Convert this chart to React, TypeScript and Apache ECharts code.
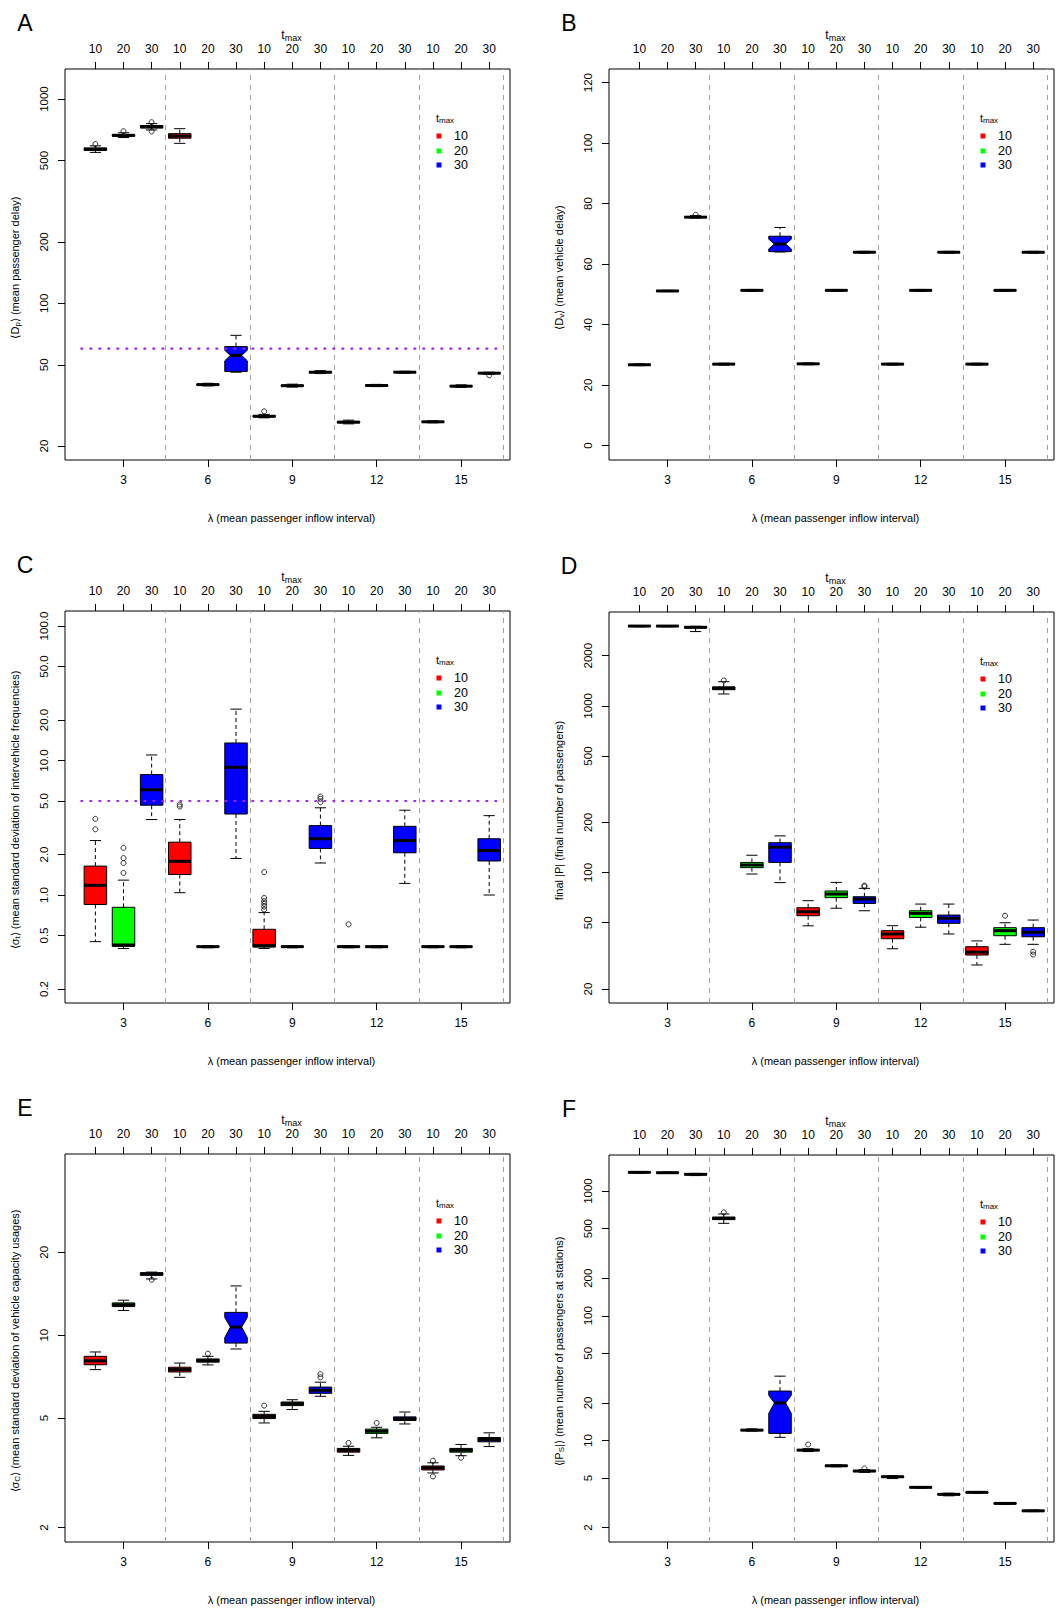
import React, { useEffect, useRef } from "react";
import * as echarts from "echarts";

// ---------- shared categories ----------
const boxPositions = [2, 3, 4, 5, 6, 7, 8, 9, 10, 11, 12, 13, 14, 15, 16];
const tmaxValues = [10, 20, 30];
const lambdaValues = [3, 6, 9, 12, 15];
const lambdaPositions = [3, 6, 9, 12, 15];
const groupSeparators = [4.5, 7.5, 10.5, 13.5, 16.5];

// ---------- panel A: mean passenger delay (log) [min, q1, median, q3, max] ----------
const statsA = [
  [548, 560, 568, 576, 590], [648, 657, 664, 671, 684], [706, 722, 731, 742, 758],
  [607, 643, 659, 677, 716], [39.4, 39.8, 40.0, 40.2, 40.6], [46.0, 46.4, 55.6, 61.4, 69.7],
  [27.5, 27.8, 28.0, 28.2, 28.6], [38.9, 39.3, 39.5, 39.8, 40.2], [45.3, 45.7, 46.0, 46.3, 46.8],
  [25.7, 26.0, 26.2, 26.4, 26.8], [39.1, 39.4, 39.6, 39.8, 40.1], [45.5, 45.8, 46.0, 46.2, 46.5],
  [26.0, 26.2, 26.3, 26.4, 26.6], [38.8, 39.1, 39.3, 39.5, 39.9], [44.9, 45.3, 45.5, 45.7, 46.0],
];
const notchesA = [[7, 52.3, 58.9]];
const outliersA = [[2, 602], [3, 696], [4, 770], [4, 694], [8, 29.6], [16, 44.4]];
const thresholdA = 60;
const yTicksA = [20, 50, 100, 200, 500, 1000];
const yTickLabelsA = ["20", "50", "100", "200", "500", "1000"];

// ---------- panel B: mean vehicle delay (linear) ----------
const statsB = [
  [26.4, 26.6, 26.7, 26.8, 27.0], [50.9, 51.0, 51.1, 51.2, 51.3], [75.2, 75.4, 75.5, 75.6, 76.0],
  [26.6, 26.8, 26.9, 27.0, 27.2], [51.0, 51.2, 51.3, 51.4, 51.6], [64.0, 64.1, 66.6, 69.2, 72.1],
  [26.7, 26.9, 27.0, 27.1, 27.3], [51.0, 51.2, 51.3, 51.4, 51.6], [63.6, 63.8, 63.9, 64.0, 64.2],
  [26.6, 26.8, 26.9, 27.0, 27.2], [51.0, 51.2, 51.3, 51.4, 51.6], [63.6, 63.8, 63.9, 64.0, 64.2],
  [26.6, 26.8, 26.9, 27.0, 27.2], [51.0, 51.2, 51.3, 51.4, 51.6], [63.6, 63.8, 63.9, 64.0, 64.2],
];
const notchesB = [[7, 65.0, 68.2]];
const outliersB = [[4, 76.3]];
const yTicksB = [0, 20, 40, 60, 80, 100, 120];
const yTickLabelsB = ["0", "20", "40", "60", "80", "100", "120"];

// ---------- panel C: std of intervehicle frequencies (log) ----------
const statsC = [
  [0.45, 0.85, 1.18, 1.64, 2.54], [0.40, 0.415, 0.425, 0.81, 1.29], [3.64, 4.65, 6.06, 7.86, 11.0],
  [1.04, 1.42, 1.78, 2.47, 3.64], [0.405, 0.41, 0.413, 0.416, 0.42], [1.87, 4.0, 8.9, 13.5, 24.1],
  [0.40, 0.41, 0.42, 0.556, 0.74], [0.405, 0.41, 0.413, 0.416, 0.42], [1.73, 2.22, 2.62, 3.28, 4.45],
  [0.405, 0.41, 0.413, 0.416, 0.42], [0.405, 0.41, 0.413, 0.416, 0.42], [1.22, 2.06, 2.54, 3.24, 4.27],
  [0.405, 0.41, 0.413, 0.416, 0.42], [0.405, 0.41, 0.413, 0.416, 0.42], [1.0, 1.79, 2.14, 2.62, 3.89],
];
const notchesC: number[][] = [];
const outliersC = [
  [2, 3.08], [2, 3.68], [3, 1.46], [3, 1.73], [3, 1.88], [3, 2.24], [5, 4.55], [5, 4.7],
  [8, 0.78], [8, 0.82], [8, 0.86], [8, 0.9], [8, 0.95], [8, 1.48], [10, 4.9], [10, 5.2], [10, 5.4], [11, 0.605],
];
const thresholdC = 5;
const yTicksC = [0.2, 0.5, 1, 2, 5, 10, 20, 50, 100];
const yTickLabelsC = ["0.2", "0.5", "1.0", "2.0", "5.0", "10.0", "20.0", "50.0", "100.0"];

// ---------- panel D: final number of passengers (log) ----------
const statsD = [
  [2980, 2995, 3010, 3020, 3030], [2980, 2995, 3010, 3020, 3030], [2790, 2930, 2960, 2980, 3000],
  [1178, 1250, 1274, 1300, 1396], [98, 107, 111, 115, 127], [87, 115, 142, 151, 166],
  [47.9, 55.1, 58.2, 61.5, 67.8], [61.1, 70.7, 74.3, 77.5, 87.3], [59, 65.3, 69.3, 71.6, 80.4],
  [34.9, 40.1, 42.8, 44.8, 48], [47, 53.8, 56.9, 59, 64.7], [42.8, 49.6, 53.2, 55.6, 64.7],
  [27.9, 32, 33.3, 35.9, 38.9], [37.1, 41.8, 44.8, 46.7, 50], [37.1, 41.2, 43.8, 46.7, 51.9],
];
const notchesD: number[][] = [];
const outliersD = [[5, 1420], [10, 82.5], [10, 83.5], [15, 55.1], [16, 33.5], [16, 32.2]];
const yTicksD = [20, 50, 100, 200, 500, 1000, 2000];
const yTickLabelsD = ["20", "50", "100", "200", "500", "1000", "2000"];

// ---------- panel E: std of vehicle capacity usages (log) ----------
const statsE = [
  [7.5, 7.81, 8.07, 8.38, 8.69], [12.3, 12.7, 12.9, 13.1, 13.4], [16.0, 16.5, 16.7, 16.85, 16.95],
  [7.03, 7.35, 7.5, 7.65, 7.92], [7.8, 7.98, 8.09, 8.2, 8.38], [8.91, 9.36, 10.7, 12.1, 15.1],
  [4.8, 4.98, 5.07, 5.16, 5.29], [5.37, 5.55, 5.64, 5.72, 5.83], [6.0, 6.15, 6.31, 6.48, 6.75],
  [3.66, 3.76, 3.82, 3.88, 3.95], [4.24, 4.4, 4.48, 4.56, 4.63], [4.76, 4.9, 4.97, 5.05, 5.26],
  [3.16, 3.24, 3.30, 3.35, 3.44], [3.65, 3.76, 3.82, 3.88, 4.01], [3.94, 4.1, 4.18, 4.25, 4.42],
];
const notchesE = [[7, 9.8, 11.6]];
const outliersE = [
  [4, 15.9], [6, 8.57], [8, 5.55], [10, 7.03], [10, 7.22], [11, 4.06], [12, 4.8], [14, 3.5], [14, 3.07], [15, 3.59],
];
const yTicksE = [2, 5, 10, 20];
const yTickLabelsE = ["2", "5", "10", "20"];

// ---------- panel F: mean number of passengers at stations (log) ----------
const statsF = [
  [1390, 1405, 1412, 1420, 1430], [1385, 1397, 1403, 1410, 1420], [1330, 1350, 1361, 1372, 1385],
  [551, 590, 604, 618, 655], [11.9, 12.0, 12.1, 12.2, 12.4], [10.6, 11.4, 20.0, 24.9, 32.8],
  [8.15, 8.3, 8.37, 8.45, 8.6], [6.15, 6.22, 6.27, 6.32, 6.38], [5.55, 5.63, 5.69, 5.75, 5.85],
  [4.95, 5.07, 5.12, 5.17, 5.22], [4.15, 4.19, 4.21, 4.23, 4.26], [3.6, 3.66, 3.70, 3.74, 3.78],
  [3.78, 3.82, 3.84, 3.86, 3.9], [3.08, 3.11, 3.13, 3.15, 3.18], [2.69, 2.71, 2.73, 2.75, 2.77],
];
const notchesF = [[7, 16.5, 23]];
const outliersF = [[5, 675], [8, 9.3], [10, 5.97]];
const yTicksF = [2, 5, 10, 20, 50, 100, 200, 500, 1000];
const yTickLabelsF = ["2", "5", "10", "20", "50", "100", "200", "500", "1000"];

// ---------- layout / style ----------
const FONT = '"Liberation Sans", Arial, Helvetica, sans-serif';
const BOX_COLORS = ["#ff0000", "#00ff00", "#0000ff"];
const X_MIN = 0.92;
const X_MAX = 16.74;

const layouts = [
  { left: 65, top: 69, width: 445, height: 391 },
  { left: 609, top: 69, width: 445, height: 391 },
  { left: 65, top: 611, width: 445, height: 392 },
  { left: 609, top: 612, width: 445, height: 391 },
  { left: 65, top: 1154, width: 445, height: 388 },
  { left: 609, top: 1155, width: 445, height: 387 },
];

const panels = [
  { letter: "A", stats: statsA, notches: notchesA, outliers: outliersA, log: true, yMin: 17.1, yMax: 1403, ticks: yTicksA, tickLabels: yTickLabelsA, threshold: thresholdA,
    yName: "{n|⟨D}{s|p}{n|⟩ (mean passenger delay)}" },
  { letter: "B", stats: statsB, notches: notchesB, outliers: outliersB, log: false, yMin: -4.8, yMax: 124.5, ticks: yTicksB, tickLabels: yTickLabelsB, threshold: null,
    yName: "{n|⟨D}{s|v}{n|⟩ (mean vehicle delay)}" },
  { letter: "C", stats: statsC, notches: notchesC, outliers: outliersC, log: true, yMin: 0.1574, yMax: 129.3, ticks: yTicksC, tickLabels: yTickLabelsC, threshold: thresholdC,
    yName: "{n|⟨σ}{s|t}{n|⟩ (mean standard deviation of intervehicle frequencies)}" },
  { letter: "D", stats: statsD, notches: notchesD, outliers: outliersD, log: true, yMin: 16.5, yMax: 3656, ticks: yTicksD, tickLabels: yTickLabelsD, threshold: null,
    yName: "{n|final |P| (final number of passengers)}" },
  { letter: "E", stats: statsE, notches: notchesE, outliers: outliersE, log: true, yMin: 1.774, yMax: 45.5, ticks: yTicksE, tickLabels: yTickLabelsE, threshold: null,
    yName: "{n|⟨σ}{s|C}{n|⟩ (mean standard deviation of vehicle capacity usages)}" },
  { letter: "F", stats: statsF, notches: notchesF, outliers: outliersF, log: true, yMin: 1.535, yMax: 1945, ticks: yTicksF, tickLabels: yTickLabelsF, threshold: null,
    yName: "{n|⟨|P}{s|S}{n||⟩ (mean number of passengers at stations)}" },
];

function renderBox(params: any, api: any) {
  const x = api.value(0);
  const ys = [1, 2, 3, 4, 5].map((d) => api.coord([x, api.value(d)])[1]);
  const [yLo, yQ1, yMed, yQ3, yHi] = ys;
  const cx = api.coord([x, api.value(3)])[0];
  const hw = api.size([0.8, 0])[0] / 2;
  const sw = hw / 2;
  const color = BOX_COLORS[api.value(6)];
  const hasNotch = api.value(7) === 1;
  const dashed = { stroke: "#000", lineWidth: 1, lineDash: [4, 3], fill: null };
  const solid = { stroke: "#000", lineWidth: 1, fill: null };
  const children: any[] = [
    { type: "line", shape: { x1: cx, y1: yQ3, x2: cx, y2: yHi }, style: dashed },
    { type: "line", shape: { x1: cx, y1: yQ1, x2: cx, y2: yLo }, style: dashed },
    { type: "line", shape: { x1: cx - sw, y1: yHi, x2: cx + sw, y2: yHi }, style: solid },
    { type: "line", shape: { x1: cx - sw, y1: yLo, x2: cx + sw, y2: yLo }, style: solid },
  ];
  if (hasNotch) {
    const yNlo = api.coord([x, api.value(8)])[1];
    const yNhi = api.coord([x, api.value(9)])[1];
    const pts = [
      [cx - hw, yQ1], [cx + hw, yQ1], [cx + hw, yNlo], [cx + hw / 2, yMed], [cx + hw, yNhi],
      [cx + hw, yQ3], [cx - hw, yQ3], [cx - hw, yNhi], [cx - hw / 2, yMed], [cx - hw, yNlo],
    ];
    children.push({ type: "polygon", shape: { points: pts }, style: { fill: color, stroke: "#000", lineWidth: 1 } });
  } else {
    const top = Math.min(yQ1, yQ3);
    children.push({
      type: "rect",
      shape: { x: cx - hw, y: top, width: hw * 2, height: Math.abs(yQ1 - yQ3) },
      style: { fill: color, stroke: "#000", lineWidth: 1 },
    });
  }
  const mw = hasNotch ? hw / 2 : hw;
  children.push({
    type: "line",
    shape: { x1: cx - mw, y1: yMed, x2: cx + mw, y2: yMed },
    style: { stroke: "#000", lineWidth: 3, fill: null },
  });
  return { type: "group", children };
}

function buildOption() {
  const grids: any[] = [];
  const xAxes: any[] = [];
  const yAxes: any[] = [];
  const series: any[] = [];
  const graphics: any[] = [];

  panels.forEach((p, i) => {
    const l = layouts[i];
    const f = (v: number) => (p.log ? Math.log10(v) : v);
    grids.push({ left: l.left, top: l.top, width: l.width, height: l.height, show: true, borderColor: "#000", borderWidth: 1, backgroundColor: "transparent" });

    xAxes.push({
      type: "value", gridIndex: i, position: "bottom", min: X_MIN, max: X_MAX,
      axisLine: { show: false, onZero: false }, splitLine: { show: false },
      axisTick: { show: true, length: 7, customValues: lambdaPositions, lineStyle: { color: "#000" } },
      axisLabel: {
        customValues: lambdaPositions, margin: 14, fontSize: 12, color: "#000", fontFamily: FONT,
        formatter: (v: number) => String(lambdaValues[lambdaPositions.indexOf(Math.round(v))]),
      },
    });
    xAxes.push({
      type: "value", gridIndex: i, position: "top", min: X_MIN, max: X_MAX,
      axisLine: { show: false, onZero: false }, splitLine: { show: false },
      axisTick: { show: true, length: 7, customValues: boxPositions, lineStyle: { color: "#000" } },
      axisLabel: {
        customValues: boxPositions, margin: 14, fontSize: 12, color: "#000", fontFamily: FONT,
        formatter: (v: number) => String(tmaxValues[boxPositions.indexOf(Math.round(v)) % 3]),
      },
    });
    const tickVals = p.ticks.map(f);
    yAxes.push({
      type: "value", gridIndex: i, min: f(p.yMin), max: f(p.yMax),
      axisLine: { show: false, onZero: false }, splitLine: { show: false },
      axisTick: { show: true, length: 7, customValues: tickVals, lineStyle: { color: "#000" } },
      axisLabel: {
        customValues: tickVals, rotate: 90, margin: 15, fontSize: 11.5, color: "#000", fontFamily: FONT,
        formatter: (v: number) => {
          let best = 0;
          tickVals.forEach((t, k) => { if (Math.abs(t - v) < Math.abs(tickVals[best] - v)) best = k; });
          return p.tickLabels[best];
        },
      },
    });

    const data = p.stats.map((s, k) => {
      const pos = boxPositions[k];
      const n = p.notches.find((q) => q[0] === pos);
      return [pos, f(s[0]), f(s[1]), f(s[2]), f(s[3]), f(s[4]), k % 3, n ? 1 : 0, n ? f(n[1]) : f(s[2]), n ? f(n[2]) : f(s[2])];
    });
    series.push({
      type: "custom", name: "box" + p.letter, xAxisIndex: 2 * i, yAxisIndex: i, z: 3,
      renderItem: renderBox, data, encode: { x: 0, y: [1, 2, 3, 4, 5] }, silent: true,
    });
    series.push({
      type: "scatter", name: "out" + p.letter, xAxisIndex: 2 * i, yAxisIndex: i, z: 4, silent: true,
      symbol: "circle", symbolSize: 5,
      itemStyle: { color: "rgba(0,0,0,0)", borderColor: "#000", borderWidth: 1 },
      data: p.outliers.map((o) => [o[0], f(o[1])]),
      markLine: {
        silent: true, symbol: ["none", "none"], label: { show: false }, z: 1,
        lineStyle: { color: "#a0a0a0", type: [5, 5], width: 1 },
        data: groupSeparators.map((v) => ({ xAxis: v })),
      },
    });
    if (p.threshold != null) {
      series.push({
        type: "line", name: "thr" + p.letter, xAxisIndex: 2 * i, yAxisIndex: i, z: 6, silent: true,
        symbol: "none",
        lineStyle: { color: "#a020f0", width: 2.2, type: [1, 8], cap: "round" },
        data: [[1.5, f(p.threshold)], [16.5, f(p.threshold)]],
      });
    }

    const cx = l.left + l.width / 2 + 4;
    graphics.push({
      type: "text", x: l.left - 40, y: l.top - 46,
      style: { text: p.letter, fontSize: 23, fontFamily: FONT, fill: "#000", align: "center", verticalAlign: "middle" },
    });
    graphics.push({
      type: "text", x: cx, y: l.top - 34,
      style: {
        text: "{t|t}{s|max}", align: "center", verticalAlign: "middle",
        rich: {
          t: { fontSize: 12, fontFamily: FONT, fill: "#000" },
          s: { fontSize: 9, fontFamily: FONT, fill: "#000", padding: [6, 0, 0, 0] },
        },
      },
    });
    graphics.push({
      type: "text", x: cx, y: l.top + l.height + 58,
      style: { text: "λ (mean passenger inflow interval)", fontSize: 11, fontFamily: FONT, fill: "#000", align: "center", verticalAlign: "middle" },
    });
    graphics.push({
      type: "text", x: l.left - 50, y: l.top + l.height / 2 + 3, rotation: Math.PI / 2,
      style: {
        text: p.yName, align: "center", verticalAlign: "middle",
        rich: {
          n: { fontSize: 11, fontFamily: FONT, fill: "#000" },
          s: { fontSize: 8, fontFamily: FONT, fill: "#000", padding: [5, 0, 0, 0] },
        },
      },
    });
    // legend
    graphics.push({
      type: "text", x: l.left + 380, y: l.top + 49,
      style: {
        text: "{t|t}{s|max}", align: "center", verticalAlign: "middle",
        rich: {
          t: { fontSize: 11, fontFamily: FONT, fill: "#000" },
          s: { fontSize: 8, fontFamily: FONT, fill: "#000", padding: [5, 0, 0, 0] },
        },
      },
    });
    const rows = [67, 82, 96];
    tmaxValues.forEach((t, k) => {
      graphics.push({
        type: "rect", shape: { x: l.left + 374 - 2.5, y: l.top + rows[k] - 2.5, width: 5, height: 5 },
        style: { fill: BOX_COLORS[k] },
      });
      graphics.push({
        type: "text", x: l.left + 389, y: l.top + rows[k],
        style: { text: String(t), fontSize: 12.5, fontFamily: FONT, fill: "#000", align: "left", verticalAlign: "middle" },
      });
    });
  });

  return {
    animation: false,
    backgroundColor: "#ffffff",
    textStyle: { fontFamily: FONT },
    grid: grids,
    xAxis: xAxes,
    yAxis: yAxes,
    series,
    graphic: graphics,
  };
}

export default function App() {
  const ref = useRef<HTMLDivElement>(null);
  useEffect(() => {
    document.body.style.margin = "0";
    if (!ref.current) return;
    const chart = echarts.init(ref.current, null, { renderer: "svg" });
    chart.setOption(buildOption() as any);
    return () => chart.dispose();
  }, []);
  return <div ref={ref} style={{ width: 1056, height: 1615 }} />;
}
